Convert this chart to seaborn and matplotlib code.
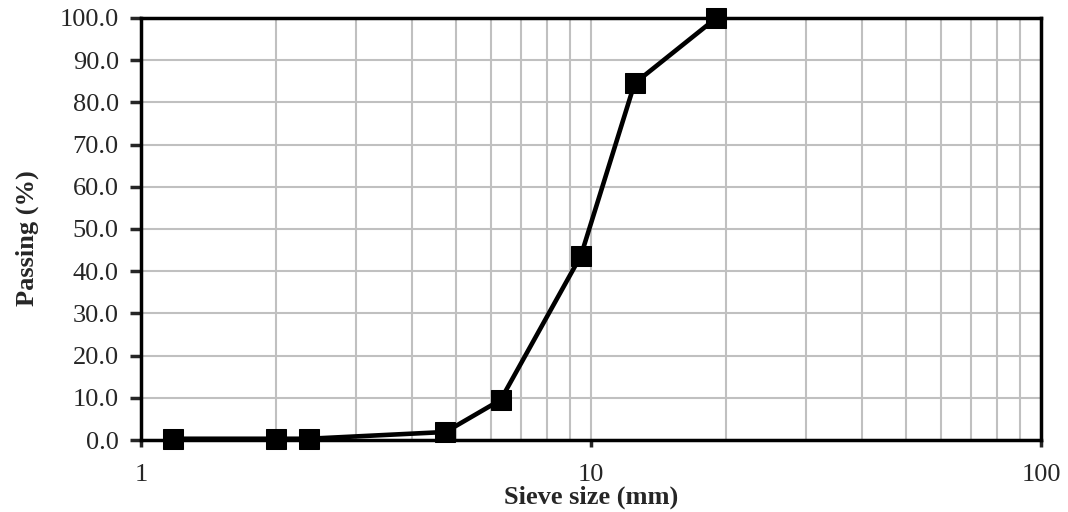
import matplotlib.pyplot as plt
import seaborn as sns
import pandas as pd
from matplotlib.ticker import NullFormatter, LogLocator

sieve_size = [1.18, 2.0, 2.36, 4.75, 6.3, 9.5, 12.5, 19.0]
passing = [0.3, 0.3, 0.3, 1.9, 9.5, 43.7, 84.5, 100.0]

df = pd.DataFrame({"sieve": sieve_size, "passing": passing})

sns.set_style("white")
plt.rcParams['font.family'] = ['Liberation Serif', 'DejaVu Serif']
plt.rcParams['font.size'] = 19

f, ax = plt.subplots(figsize=(10.68, 5.12), dpi=100)
plt.subplots_adjust(left=0.132, right=0.9747, bottom=0.1406, top=0.965)

sns.lineplot(x="sieve", y="passing", data=df, color="black", marker="s", markersize=14.5,
             linewidth=3.3, markeredgecolor="black", ax=ax, zorder=5, clip_on=False)

ax.set_xscale("log")
ax.set_xlim(1, 100)
ax.set_ylim(0, 100)
ax.set_xticks([1, 10, 100], ["1", "10", "100"])
ax.xaxis.set_minor_locator(LogLocator(base=10, subs=range(2, 10)))
ax.xaxis.set_minor_formatter(NullFormatter())
ax.set_yticks(range(0, 101, 10), [f"{v:.1f}" for v in range(0, 101, 10)])
ax.grid(which="major", color="#c0c0c0", linewidth=1.5)
ax.grid(which="minor", axis="x", color="#c0c0c0", linewidth=1.5)
ax.set_axisbelow(True)
for s in ax.spines.values():
    s.set_linewidth(2.5)
    s.set_color("black")
ax.tick_params(axis="y", which="major", left=True, length=8, width=2.5, direction="out", pad=8)
ax.tick_params(axis="x", which="major", bottom=True, length=5, width=2.5, direction="out", pad=12)
ax.tick_params(axis="x", which="minor", bottom=False)
ax.set_xlabel("Sieve size (mm)", fontweight="bold", labelpad=0)
ax.set_ylabel("Passing (%)", fontweight="bold")
ax.yaxis.set_label_coords(-0.113, 0.479)

plt.savefig("out.png", dpi=100)
